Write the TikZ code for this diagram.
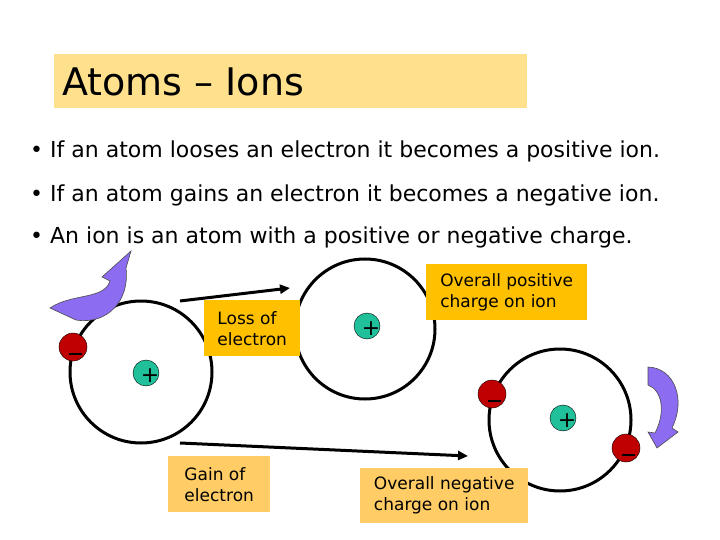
\documentclass[tikz,border=0pt]{standalone}
\usepackage{fontspec}
\setmainfont{DejaVu Sans}
\usetikzlibrary{arrows.meta}
\definecolor{titlebg}{HTML}{FFE08C}
\definecolor{gold}{HTML}{FFC000}
\definecolor{lgold}{HTML}{FFCC66}
\definecolor{nuc}{HTML}{20C09A}
\definecolor{ele}{HTML}{C00000}
\definecolor{purp}{HTML}{8C6CF0}
\begin{document}
\begin{tikzpicture}[x=1pt,y=-1pt,
  orbit/.style={draw,line width=3pt},
  nucleus/.style={circle,draw,fill=nuc,minimum size=26pt,inner sep=0pt},
  electron/.style={circle,draw,fill=ele,minimum size=28pt,inner sep=0pt},
  lbl/.style={anchor=north west,align=left,inner sep=5pt,font=\fontsize{17}{21}\selectfont},
  bul/.style={anchor=west,font=\fontsize{22}{26}\selectfont,inner sep=0pt},
  conn/.style={line width=3pt},
  sign/.style={font=\fontsize{22}{22}\selectfont,inner sep=0pt},
  parrow/.style={draw=black!70,fill=purp,line width=0.6pt}]
\useasboundingbox (0,0) rectangle (720,540);
\fill[white] (0,0) rectangle (720,540);
\node[fill=titlebg,minimum width=473pt,minimum height=54pt,anchor=north west,inner sep=0pt] (title) at (54,54) {};
\node[anchor=west,font=\fontsize{38}{42}\selectfont,inner sep=0pt] (titletext) at (62,82) {Atoms – Ions};
\node[bul] (b1) at (30,151) {• If an atom looses an electron it becomes a positive ion.};
\node[bul] (b2) at (30,195) {• If an atom gains an electron it becomes a negative ion.};
\node[bul] (b3) at (30,237) {• An ion is an atom with a positive or negative charge.};
% atoms
\draw[orbit] (141,372) circle (71);
\draw[orbit] (365,329) circle (70);
\draw[orbit] (560,420) circle (71);
\node[lbl,fill=gold,minimum width=96pt,minimum height=56pt] (loss) at (204,300) {Loss of\\electron};
\node[lbl,fill=lgold,minimum width=102pt,minimum height=56pt] (gain) at (168,456) {Gain of\\electron};
\node[lbl,fill=gold,minimum width=161pt,minimum height=56pt] (pos) at (426,264) {Overall positive\\charge on ion};
\node[lbl,fill=lgold,minimum width=168pt,minimum height=55pt] (neg) at (360,468) {Overall negative\\charge on ion};
\node[nucleus] (n1) at (146,373) {};
\node[nucleus] (n2) at (367,326) {};
\node[nucleus] (n3) at (563,418) {};
\foreach \n in {n1,n2,n3} \node[sign] at ([shift={(4,3)}]\n.center) {+};
\node[electron] (e1) at (73,347) {};
\node[electron] (e2) at (492,394) {};
\node[electron] (e3) at (626,448) {};
\foreach \n in {e1,e2,e3} \draw[line width=1.6pt] ([shift={(-4,7)}]\n.center) -- ([shift={(9,7)}]\n.center);
\coordinate (l1) at (180,301); \coordinate (l2) at (290,288);
\draw[conn,-{Triangle[length=10pt,width=9pt]}] (l1) -- (l2);
\coordinate (g1) at (180,443); \coordinate (g2) at (468,456);
\draw[conn,-{Triangle[length=10pt,width=9pt]}] (g1) -- (g2);
% purple arrows
\draw[parrow] (50,308) .. controls (72,293) and (104,300) .. (110,281) -- (102,277) -- (131,251) -- (126,268) .. controls (130,300) and (108,325) .. (76,320) -- cycle;
\draw[parrow] (648,367) .. controls (675,368) and (686,400) .. (672,428) -- (678,432) -- (657,448) -- (648,432) -- (655,433) .. controls (666,412) and (662,390) .. (648,385) -- cycle;
\end{tikzpicture}
\end{document}
